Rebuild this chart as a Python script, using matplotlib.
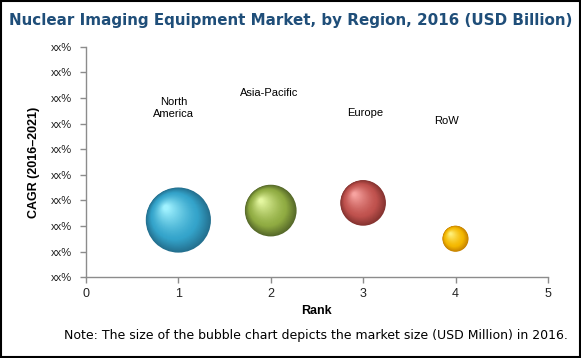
import numpy as np
import matplotlib
matplotlib.use("Agg")
import matplotlib.pyplot as plt
from matplotlib.patches import Rectangle
from matplotlib.colors import to_rgb
import matplotlib.transforms as mtransforms

# ---- data ----
regions = ["North\nAmerica", "Asia-Pacific", "Europe", "RoW"]
rank = [1, 2, 3, 4]
cagr = [2.23, 2.6, 2.9, 1.5]           # position on the (hidden-value) CAGR axis
market_size = [1.00, 0.63, 0.49, 0.16]  # relative market size (bubble area)
ytick_labels = ["xx%"] * 10
xticks = [0, 1, 2, 3, 4, 5]

# label anchor positions (data coords)
label_x = [0.95, 1.98, 3.02, 3.9]
label_y = [6.6, 7.2, 6.4, 6.1]

# colors: (dark edge, base, highlight)
colors = [
    ("#24708f", "#34a4cb", "#a0f2ff"),
    ("#56692a", "#90ac42", "#e4f7a0"),
    ("#853330", "#c0524e", "#f7a3a0"),
    ("#c68200", "#f4b800", "#fff07a"),
]

fig = plt.figure(figsize=(5.81, 3.58), dpi=100)
ax = fig.add_axes([0.148, 0.226, 0.795, 0.643])
ax.set_xlim(0, 5)
ax.set_ylim(0, 9)

max_s = 2200.0  # points^2 for largest bubble


def mix(c1, c2, t):
    a = np.array(to_rgb(c1)); b = np.array(to_rgb(c2))
    return tuple(a + (b - a) * t)


N = 40
for x, y, m, (dk, base, hi) in zip(rank, cagr, market_size, colors):
    s0 = max_s * m
    r_pt = np.sqrt(s0) / 2.0  # radius in points
    for i in range(N):
        t = i / (N - 1)
        rad = r_pt * (1 - 0.92 * t)
        off = t * 0.38 * r_pt
        tr = mtransforms.offset_copy(ax.transData, fig=fig, x=-off, y=off, units="points")
        if t < 0.3:
            col = mix(dk, base, t / 0.3)
        else:
            col = mix(base, hi, ((t - 0.3) / 0.7) ** 1.3)
        ax.scatter([x], [y], s=(2 * rad) ** 2, color=col, edgecolors="none",
                   transform=tr, zorder=3 + i * 0.01, clip_on=False)

for lx, ly, txt in zip(label_x, label_y, regions):
    ax.text(lx, ly, txt, ha="center", va="center", fontsize=8,
            family="Liberation Sans", color="black", linespacing=1.2)

ax.set_xticks(xticks)
ax.set_xticklabels([str(v) for v in xticks], fontsize=9, family="Liberation Sans")
ax.set_yticks(range(10))
ax.set_yticklabels(ytick_labels, fontsize=8, family="Liberation Sans")
for s in ["top", "right"]:
    ax.spines[s].set_visible(False)
for s in ["left", "bottom"]:
    ax.spines[s].set_color("#8c8c8c")
    ax.spines[s].set_linewidth(1)
ax.tick_params(axis="both", colors="#8c8c8c", labelcolor="#222222", length=4, width=1)
ax.tick_params(axis="y", pad=6)

ax.set_xlabel("Rank", fontsize=9, family="Liberation Sans", fontweight="bold", labelpad=4)
ax.set_ylabel("CAGR (2016\u20132021)", fontsize=9, family="Liberation Sans",
              fontweight="bold", labelpad=8)

fig.text(0.5, 0.943, "Nuclear Imaging Equipment Market, by Region, 2016 (USD Billion)",
         ha="center", va="center", fontsize=10.9, fontweight="bold", color="#1f4e79",
         family="DejaVu Sans")
fig.text(0.544, 0.063, "Note: The size of the bubble chart depicts the market size (USD Million) in 2016.",
         ha="center", va="center", fontsize=9.0, color="black", family="DejaVu Sans")

fig.patches.append(Rectangle((0.001, 0.002), 0.997, 0.995, transform=fig.transFigure,
                             fill=False, edgecolor="black", linewidth=1.5))

fig.savefig("out.png", dpi=100, facecolor="white")
